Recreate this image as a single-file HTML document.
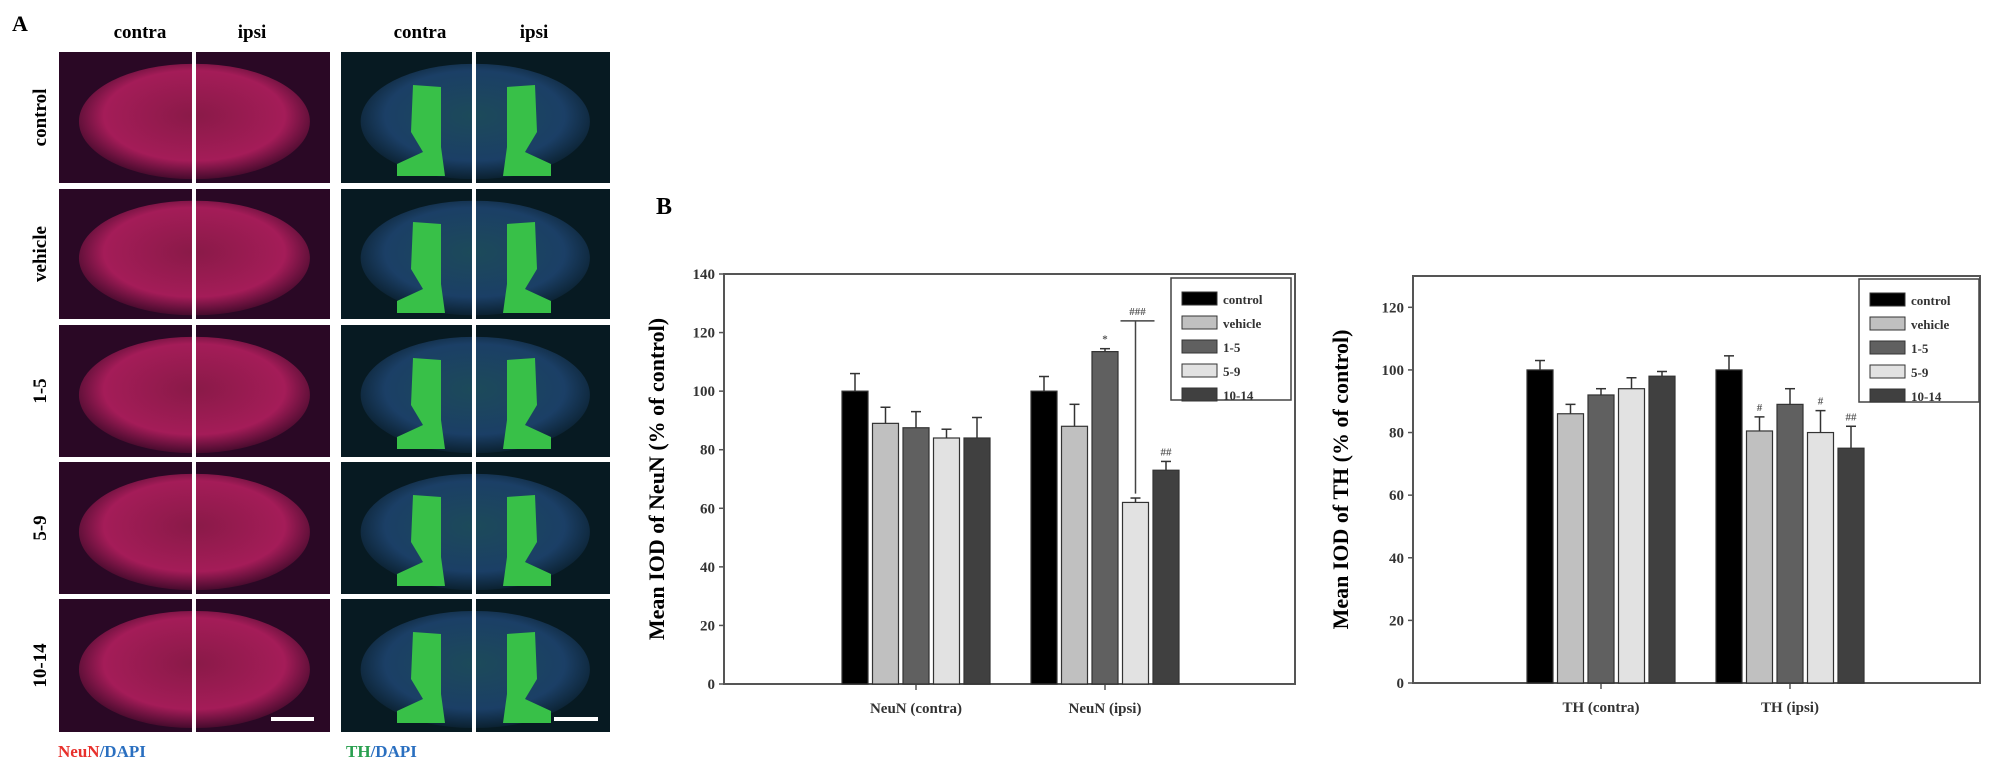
<!DOCTYPE html>
<html><head><meta charset="utf-8"><style>
body{margin:0;background:#fff;}
svg{display:block;font-family:"Liberation Serif",serif;font-weight:bold;}
</style></head><body>
<svg id="fig" width="1990" height="767" viewBox="0 0 1990 767" xmlns="http://www.w3.org/2000/svg">
<defs id="defs">
<radialGradient id="gr" cx="50%" cy="45%" r="60%"><stop offset="0" stop-color="#8a1a48"/><stop offset="0.65" stop-color="#a41c58"/><stop offset="1" stop-color="#2a0620"/></radialGradient>
<radialGradient id="gg" cx="50%" cy="45%" r="60%"><stop offset="0" stop-color="#1c4a5a"/><stop offset="0.65" stop-color="#1b3f66"/><stop offset="1" stop-color="#061820"/></radialGradient>
</defs>
<g id="panelA"></g>
<text x="656" y="214" font-size="24">B</text>
<g id="chart1"></g>
<g id="chart2"></g>
</svg>
<script>
const groups = ["control","vehicle","1-5","5-9","10-14"];
const neunCats = ["NeuN (contra)","NeuN (ipsi)"];
const neunContra = [100,89,87.5,84,84];
const neunContraErr = [6,5.5,5.5,3,7];
const neunIpsi = [100,88,113.5,62,73];
const neunIpsiErr = [5,7.5,1,1.5,3];
const neunTicks = [0,20,40,60,80,100,120,140];
const thCats = ["TH (contra)","TH (ipsi)"];
const thContra = [100,86,92,94,98];
const thContraErr = [3,3,2,3.5,1.5];
const thIpsi = [100,80.5,89,80,75];
const thIpsiErr = [4.5,4.5,5,7,7];
const thTicks = [0,20,40,60,80,100,120];
const fills = ["#000000","#c0c0c0","#606060","#e2e2e2","#404040"];
const NS="http://www.w3.org/2000/svg";
function mk(parent,tag,attrs,text){const e=document.createElementNS(NS,tag);for(const k in attrs)e.setAttribute(k,attrs[k]);if(text!==undefined)e.textContent=text;parent.appendChild(e);return e;}

// Panel A
const A=document.getElementById('panelA');
const D=document.getElementById('defs');
let t;
t=mk(A,'text',{x:12,y:31,'font-size':22},'A');


const heads=[["contra",140],["ipsi",252],["contra",420],["ipsi",534]];
heads.forEach(h=>{t=mk(A,'text',{x:h[1],y:38,'font-size':19,'text-anchor':'middle'},h[0]);

});
const rowsY=[[52,183],[189,319],[325,457],[462,594],[599,732]];
const colsX=[[59,192,'gr'],[196,330,'gr'],[341,472,'gg'],[476,610,'gg']];
rowsY.forEach((r,ri)=>{
  t=mk(A,'text',{transform:`translate(46,${(r[0]+r[1])/2}) rotate(-90)`,'font-size':19,'text-anchor':'middle'},groups[ri]);
  
  
  colsX.forEach((c,ci)=>{
    const cid='clip'+ri+'_'+ci;
    const cp=mk(D,'clipPath',{id:cid});
    mk(cp,'rect',{x:c[0],y:r[0],width:c[1]-c[0],height:r[1]-r[0]});
    const g=mk(A,'g',{'clip-path':'url(#'+cid+')'});
    
    
    const red=c[2]==='gr';
    mk(g,'rect',{x:c[0],y:r[0],width:c[1]-c[0],height:r[1]-r[0],fill:red?'#2a0825':'#071a22'});
    const cx=ci%2===0?c[1]:c[0];
    mk(g,'ellipse',{cx:cx,cy:(r[0]+r[1])/2+4,rx:(c[1]-c[0])*0.85,ry:(r[1]-r[0])*0.44,fill:'url(#'+c[2]+')'});
    if(!red){const s=ci%2===0?-1:1;const gx=ci%2===0?c[1]-45:c[0]+45;
      const P=(dx,dy)=>`${gx+s*dx},${r[0]+dy}`;
      mk(g,'path',{d:`M${P(-14,35)} L${P(14,33)} L${P(16,80)} L${P(4,100)} L${P(30,112)} L${P(30,124)} L${P(-18,124)} L${P(-14,95)} Z`,fill:'#38c048'});}
  });
});
mk(A,'rect',{x:271,y:717,width:43,height:4,fill:'#fff'});
mk(A,'rect',{x:554,y:717,width:44,height:4,fill:'#fff'});
t=mk(A,'text',{x:58,y:757,'font-size':17});


mk(t,'tspan',{fill:'#e8302c'},'NeuN');mk(t,'tspan',{fill:'#2a6fc0'},'/DAPI');
t=mk(A,'text',{x:346,y:757,'font-size':17});


mk(t,'tspan',{fill:'#2aa050'},'TH');mk(t,'tspan',{fill:'#2a6fc0'},'/DAPI');

function chart(id,cfg){
  const G=document.getElementById(id);
  const y=v=>cfg.y0-(v/cfg.max)*(cfg.y0-cfg.top);
  mk(G,'rect',{x:cfg.left,y:cfg.top,width:cfg.right-cfg.left,height:cfg.y0-cfg.top,fill:'none',stroke:'#555',"stroke-width":2});
  cfg.ticks.forEach(v=>{
    mk(G,'line',{x1:cfg.left-5,x2:cfg.left,y1:y(v),y2:y(v),stroke:'#555','stroke-width':1.5});
    const tt=mk(G,'text',{x:cfg.left-9,y:y(v)+5,'font-size':15,'text-anchor':'end',fill:'#333'},v);
    
    
  });
  const yt=mk(G,'text',{transform:`translate(${cfg.titleX},${(cfg.top+cfg.y0)/2}) rotate(-90)`,'font-size':22,'text-anchor':'middle'},cfg.title);
  
  
  const bw=26, step=30.5;
  cfg.series.forEach((s,ci)=>{
    const cx=cfg.centers[ci];
    mk(G,'line',{x1:cx,x2:cx,y1:cfg.y0,y2:cfg.y0+6,stroke:'#555','stroke-width':1.5});
    const cl=mk(G,'text',{x:cx,y:cfg.y0+29,'font-size':15,'text-anchor':'middle',fill:'#333'},cfg.cats[ci]);
    
    
    s.vals.forEach((v,i)=>{
      const x=cx+(i-2)*step-bw/2;
      const top=y(v), et=y(v+s.err[i]);
      const el=mk(G,'line',{x1:x+bw/2,x2:x+bw/2,y1:top,y2:et,stroke:'#333','stroke-width':1.5});
      
      
      mk(G,'line',{x1:x+bw/2-5,x2:x+bw/2+5,y1:et,y2:et,stroke:'#333','stroke-width':1.5});
      const b=mk(G,'rect',{x:x,y:top,width:bw,height:cfg.y0-top,fill:fills[i],stroke:'#333','stroke-width':1.2});
      
      
      const m=s.marks[i];
      if(m){const mt=mk(G,'text',{x:x+bw/2,y:et-6,'font-size':11,'text-anchor':'middle',fill:'#555'},m);
        
        }
    });
  });
  const L=mk(G,'g',{});
  
  
  mk(L,'rect',{x:cfg.leg[0],y:cfg.leg[1],width:cfg.leg[2],height:cfg.leg[3],fill:'#fff',stroke:'#444','stroke-width':1.5});
  groups.forEach((g,i)=>{
    const ly=cfg.leg[1]+14+i*24;
    mk(L,'rect',{x:cfg.leg[0]+11,y:ly,width:35,height:13,fill:fills[i],stroke:'#333'});
    const lt=mk(L,'text',{x:cfg.leg[0]+52,y:ly+12,'font-size':13,fill:'#333'},g);
    
    
  });
  return y;
}
const y1=chart('chart1',{left:724,right:1295,top:274,y0:684,max:140,ticks:neunTicks,title:"Mean IOD of NeuN (% of control)",titleX:664,
  centers:[916,1105],cats:neunCats,leg:[1171,278,120,122],
  series:[{vals:neunContra,err:neunContraErr,marks:['','','','','']},{vals:neunIpsi,err:neunIpsiErr,marks:['','','*','','##']}]});
const G1=document.getElementById('chart1');
const bx=1105+1*30.5;
let br=mk(G1,'path',{d:`M${bx},${y1(65)} L${bx},${y1(124)} M${bx-15},${y1(124)} L${bx+19},${y1(124)}`,stroke:'#444','stroke-width':1.5,fill:'none'});


br=mk(G1,'text',{x:bx+2,y:y1(126),'font-size':11,'text-anchor':'middle',fill:'#555'},'###');


chart('chart2',{left:1413,right:1980,top:276,y0:683,max:130,ticks:thTicks,title:"Mean IOD of TH (% of control)",titleX:1348,
  centers:[1601,1790],cats:thCats,leg:[1859,279,120,123],
  series:[{vals:thContra,err:thContraErr,marks:['','','','','']},{vals:thIpsi,err:thIpsiErr,marks:['','#','','#','##']}]});
</script>
</body></html>
